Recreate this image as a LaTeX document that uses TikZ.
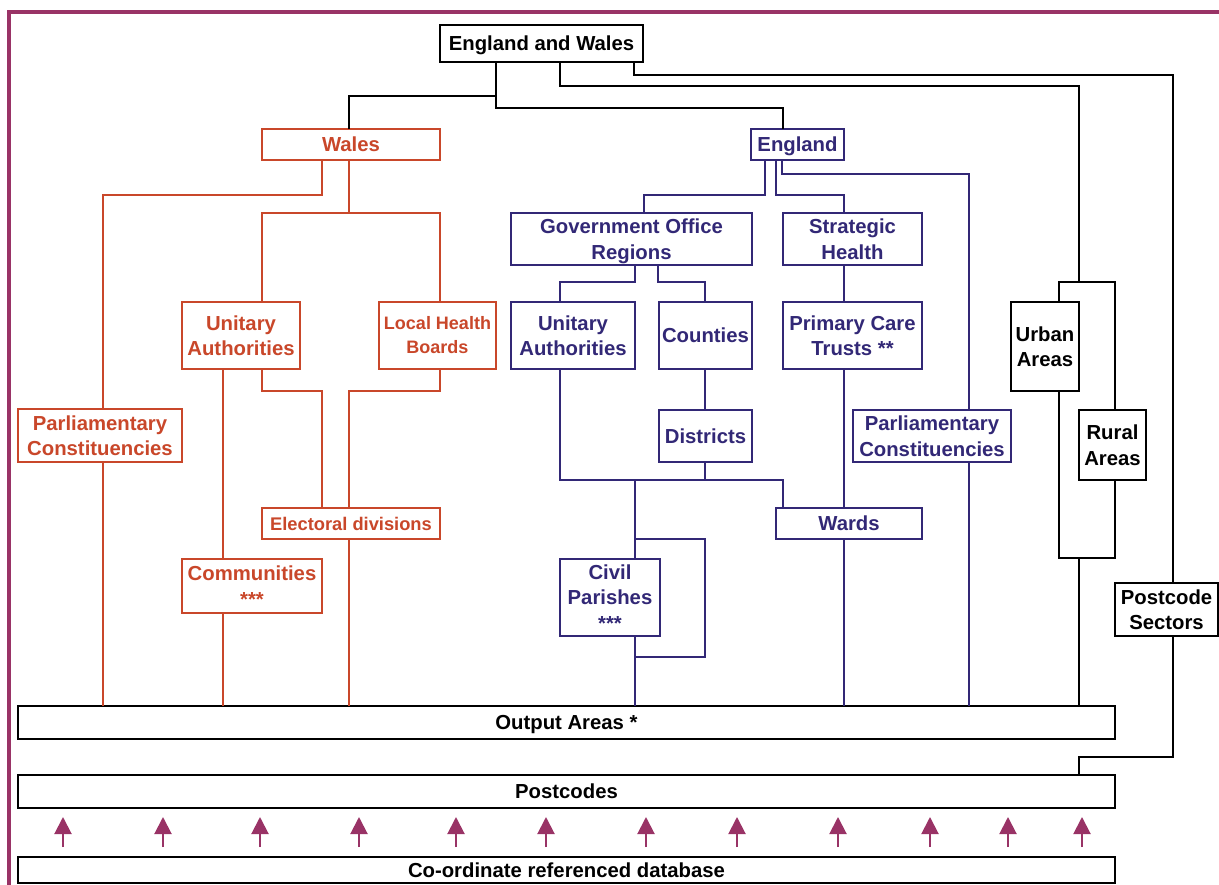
\documentclass[tikz,border=0pt]{standalone}
\usepackage{fontspec}
\setmainfont{Liberation Sans}
\usetikzlibrary{arrows.meta}
\definecolor{wred}{RGB}{201,71,42}
\definecolor{eblue}{RGB}{50,40,118}
\definecolor{framecol}{RGB}{153,51,102}
\newcommand{\bx}[7]{%
  \node[#2, minimum width={(#5-#3)*1pt}, minimum height={(#6-#4)*1pt}] (#1) at ({(#3+#5)/2},{(#4+#6)/2}) {#7};}
\tikzset{
  box/.style={draw, fill=white, line width=2pt, inner sep=0pt, outer sep=0pt, align=center,
    font=\fontsize{20.3}{25.5}\selectfont\bfseries},
  one/.style={execute at begin node={\rule{0pt}{19.5pt}},
    execute at end node={\rule[-5pt]{0pt}{5pt}}},
  kbox/.style={box, draw=black, text=black},
  rbox/.style={box, draw=wred, text=wred},
  bbox/.style={box, draw=eblue, text=eblue},
  smallfont/.style={font=\fontsize{18}{24}\selectfont\bfseries},
  edfont/.style={font=\fontsize{18.3}{24}\selectfont\bfseries,
    execute at begin node={\rule{0pt}{17.5pt}},
    execute at end node={\rule[-4.5pt]{0pt}{4.5pt}}},
  kl/.style={draw=black, line width=2pt},
  rl/.style={draw=wred, line width=2pt},
  bl/.style={draw=eblue, line width=2pt},
  uparr/.style={draw=framecol, line width=2pt, -{Triangle[width=17pt,length=17pt]},
    shorten <=10pt, shorten >=9pt},
}
\begin{document}
\begin{tikzpicture}[x=1pt,y=-1pt]
\useasboundingbox (0,0) rectangle (1219,885);
% frame
\draw[framecol, line width=4pt] (9.3,885) -- (9.3,12) -- (1219,12);

% boxes
\bx{EW}{kbox,one}{440}{25}{643}{62}{England and Wales}
\bx{Wales}{rbox,one}{262}{129}{440}{160}{Wales}
\bx{England}{bbox,one}{751}{129}{844}{160}{England}
\bx{UAr}{rbox}{182}{302}{300}{369}{Unitary\\Authorities}
\bx{LHB}{rbox,smallfont}{379}{302}{496}{369}{Local Health\\Boards}
\bx{PCr}{rbox}{18}{409}{182}{462}{Parliamentary\\Constituencies}
\bx{ED}{rbox,edfont}{262}{508}{440}{539}{Electoral divisions}
\bx{Comm}{rbox}{182}{559}{322}{613}{Communities\\***}
\bx{GOR}{bbox}{511}{213}{752}{265}{Government Office\\\smash{Regions}}
\bx{SH}{bbox}{783}{213}{922}{265}{Strategic\\Health}
\bx{UAb}{bbox}{511}{302}{635}{369}{Unitary\\Authorities}
\bx{Counties}{bbox,one}{659}{302}{752}{369}{Counties}
\bx{PCT}{bbox}{783}{302}{922}{369}{Primary Care\\Trusts **}
\bx{Districts}{bbox,one}{659}{410}{752}{462}{Districts}
\bx{PCb}{bbox}{853}{410}{1011}{462}{Parliamentary\\Constituencies}
\bx{Wards}{bbox,one}{776}{508}{922}{539}{Wards}
\bx{CP}{bbox}{560}{559}{660}{636}{Civil\\Parishes\\***}
\bx{Urban}{kbox}{1011}{302}{1079}{391}{Urban\\Areas}
\bx{Rural}{kbox}{1079}{410}{1146}{480}{Rural\\Areas}
\bx{PS}{kbox}{1115}{583}{1218}{636}{Postcode\\Sectors}
\bx{OA}{kbox,one}{18}{706}{1115}{739}{Output Areas *}
\bx{PC}{kbox,one}{18}{775}{1115}{808}{Postcodes}
\bx{DB}{kbox,one}{18}{857}{1115}{883}{Co-ordinate referenced database}

% black connectors
\coordinate (a1) at (496,96); \coordinate (a2) at (496,108);
\coordinate (e1) at (783,108); \coordinate (w1) at (349,96);
\draw[kl] (EW.south -| a1) -- (a2) -- (e1) -- (England.north -| e1);
\draw[kl] (a1) -- (w1) -- (Wales.north -| w1);
\coordinate (b1) at (560,86); \coordinate (b2) at (1079,86); \coordinate (b3) at (1079,282);
\coordinate (b4) at (1059,282); \coordinate (b5) at (1115,282);
\draw[kl] (EW.south -| b1) -- (b1) -- (b2) -- (b3);
\draw[kl] (Urban.north -| b4) -- (b4) -- (b5) -- (Rural.north -| b5);
\coordinate (u1) at (1059,558); \coordinate (u2) at (1115,558); \coordinate (u3) at (1079,558);
\draw[kl] (Urban.south -| u1) -- (u1) -- (u2) -- (Rural.south -| u2);
\draw[kl] (u3) -- (OA.north -| u3);
\coordinate (c1) at (634,75); \coordinate (c2) at (1173,75);
\draw[kl] (EW.south -| c1) -- (c1) -- (c2) -- (PS.north -| c2);
\coordinate (d1) at (1173,757); \coordinate (d2) at (1079,757);
\draw[kl] (PS.south -| d1) -- (d1) -- (d2) -- (PC.north -| d2);

% red connectors
\coordinate (r1) at (322,195); \coordinate (r2) at (103,195);
\draw[rl] (Wales.south -| r1) -- (r1) -- (r2) -- (PCr.north -| r2);
\draw[rl] (PCr.south -| r2) -- (OA.north -| r2);
\coordinate (r3) at (349,213); \coordinate (r4) at (262,213); \coordinate (r5) at (440,213);
\draw[rl] (Wales.south -| r3) -- (r3);
\draw[rl] (UAr.north -| r4) -- (r4) -- (r5) -- (LHB.north -| r5);
\coordinate (r6) at (223,600);
\draw[rl] (UAr.south -| r6) -- (Comm.north -| r6);
\draw[rl] (Comm.south -| r6) -- (OA.north -| r6);
\coordinate (r7) at (262,391); \coordinate (r8) at (322,391);
\coordinate (r9) at (440,391); \coordinate (r10) at (349,391);
\draw[rl] (UAr.south -| r7) -- (r7) -- (r8) -- (ED.north -| r8);
\draw[rl] (LHB.south -| r9) -- (r9) -- (r10) -- (ED.north -| r10);
\draw[rl] (ED.south -| r10) -- (OA.north -| r10);

% blue connectors
\coordinate (g1) at (765,195); \coordinate (g2) at (644,195);
\coordinate (g3) at (776,195); \coordinate (g4) at (844,195);
\coordinate (g5) at (782,174); \coordinate (g6) at (969,174);
\draw[bl] (England.south -| g1) -- (g1) -- (g2) -- (GOR.north -| g2);
\draw[bl] (England.south -| g3) -- (g3) -- (g4) -- (SH.north -| g4);
\draw[bl] (England.south -| g5) -- (g5) -- (g6) -- (PCb.north -| g6);
\draw[bl] (PCb.south -| g6) -- (OA.north -| g6);
\coordinate (h1) at (635,282); \coordinate (h2) at (560,282);
\coordinate (h3) at (658,282); \coordinate (h4) at (705,282);
\draw[bl] (GOR.south -| h1) -- (h1) -- (h2) -- (UAb.north -| h2);
\draw[bl] (GOR.south -| h3) -- (h3) -- (h4) -- (Counties.north -| h4);
\draw[bl] (Counties.south -| h4) -- (Districts.north -| h4);
\coordinate (k1) at (560,480); \coordinate (k2) at (783,480);
\coordinate (k3) at (705,480); \coordinate (k4) at (635,480);
\draw[bl] (UAb.south -| k1) -- (k1) -- (k2) -- (Wards.north -| k2);
\draw[bl] (Districts.south -| k3) -- (k3);
\draw[bl] (k4) -- (CP.north -| k4);
\draw[bl] (CP.south -| k4) -- (OA.north -| k4);
\coordinate (m1) at (635,539); \coordinate (m2) at (705,539);
\coordinate (m3) at (705,657); \coordinate (m4) at (635,657);
\draw[bl] (m1) -- (m2) -- (m3) -- (m4);
\draw[bl] (SH.south -| g4) -- (PCT.north -| g4);
\draw[bl] (PCT.south -| g4) -- (Wards.north -| g4);
\draw[bl] (Wards.south -| g4) -- (OA.north -| g4);

% arrows from database to postcodes
\foreach \ax in {63,163,260,359,456,546,646,737,838,930,1008,1082} {
  \draw[uparr] ([xshift=\ax pt-18pt]DB.north west) -- ([xshift=\ax pt-18pt]PC.south west);
}
\end{tikzpicture}
\end{document}
